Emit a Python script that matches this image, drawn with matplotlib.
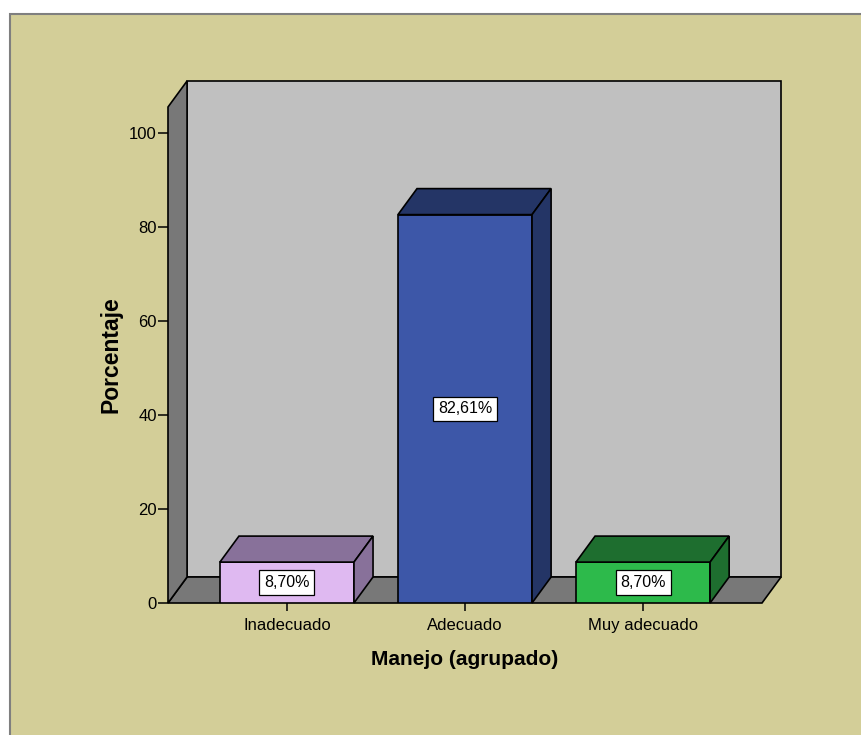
import matplotlib.pyplot as plt
from matplotlib.patches import Polygon, Rectangle


# Datos: Manejo (agrupado)

categorias = ["Inadecuado", "Adecuado", "Muy adecuado"]
porcentajes = [8.70, 82.61, 8.70]
etiquetas = ["8,70%", "82,61%", "8,70%"]
marcas_y = [0, 20, 40, 60, 80, 100]

colores_frente = ["#dfb9f1", "#3d57a8", "#2dba4b"]
colores_lado = ["#88719a", "#243566", "#1e6e2f"]

FUENTE = ["Liberation Sans Narrow", "Liberation Sans", "DejaVu Sans"]
plt.rcParams["font.family"] = FUENTE

# Profundidad del efecto 3D (en unidades de datos)
PROF_X = 0.107
PROF_Y = 5.53
ANCHO = 0.753
X_MIN, X_MAX = -0.668, 2.668
Y_MAX = 105.5

fig = plt.figure(figsize=(8.62, 7.35), dpi=100)
fig.patch.set_facecolor("white")

# Fondo del grafico
fig.patches.append(Rectangle((10 / 862, -0.01), 1.0, 721 / 735 + 0.01,
                             transform=fig.transFigure, facecolor="#d3ce98",
                             edgecolor="#7f7f7f", linewidth=1.5, zorder=-10))

ax = fig.add_axes([168 / 862, 132 / 735, 594 / 862, 496 / 735])
ax.set_facecolor("none")
for lado in ax.spines.values():
    lado.set_visible(False)
ax.set_xlim(X_MIN, X_MAX)
ax.set_ylim(0, Y_MAX)

borde = dict(edgecolor="black", linewidth=1.2, clip_on=False)

# Pared del fondo, suelo y pared izquierda
ax.add_patch(Polygon([(X_MIN + PROF_X, PROF_Y), (X_MAX + PROF_X, PROF_Y),
                      (X_MAX + PROF_X, Y_MAX + PROF_Y), (X_MIN + PROF_X, Y_MAX + PROF_Y)],
                     facecolor="#c0c0c0", zorder=0, **borde))
ax.add_patch(Polygon([(X_MIN, 0), (X_MAX, 0), (X_MAX + PROF_X, PROF_Y),
                      (X_MIN + PROF_X, PROF_Y)],
                     facecolor="#787878", zorder=1, **borde))
ax.add_patch(Polygon([(X_MIN, 0), (X_MIN, Y_MAX), (X_MIN + PROF_X, Y_MAX + PROF_Y),
                      (X_MIN + PROF_X, PROF_Y)],
                     facecolor="#787878", zorder=1, **borde))

# Barras
xs = list(range(len(categorias)))
ax.bar(xs, porcentajes, width=ANCHO, color=colores_frente, edgecolor="black",
       linewidth=1.2, zorder=3)

for x, h, c_lado, txt in zip(xs, porcentajes, colores_lado, etiquetas):
    izq = x - ANCHO / 2
    der = x + ANCHO / 2
    ax.add_patch(Polygon([(izq, h), (izq + PROF_X, h + PROF_Y),
                          (der + PROF_X, h + PROF_Y), (der, h)],
                         facecolor=c_lado, zorder=3, **borde))
    ax.add_patch(Polygon([(der, 0), (der, h), (der + PROF_X, h + PROF_Y),
                          (der + PROF_X, PROF_Y)],
                         facecolor=c_lado, zorder=3, **borde))
    ax.text(x, h / 2, txt, ha="center", va="center", fontsize=11.5, zorder=5,
            bbox=dict(boxstyle="square,pad=0.3", facecolor="white",
                      edgecolor="black", linewidth=0.9))

# Ejes
ax.set_yticks(marcas_y)
ax.set_xticks(xs, categorias)
ax.tick_params(axis="both", direction="out", width=1.1,
               colors="black", labelsize=12)
ax.tick_params(axis="x", length=6, pad=5)
ax.tick_params(axis="y", length=7, pad=1)

ax.set_xlabel("Manejo (agrupado)", fontsize=15, fontweight="bold")
ax.xaxis.set_label_coords(0.5, -0.095)
ax.set_ylabel("Porcentaje", fontsize=16.5, fontweight="bold")
ax.yaxis.set_label_coords(-0.076, 0.5)

fig.savefig("out.png", dpi=100)
